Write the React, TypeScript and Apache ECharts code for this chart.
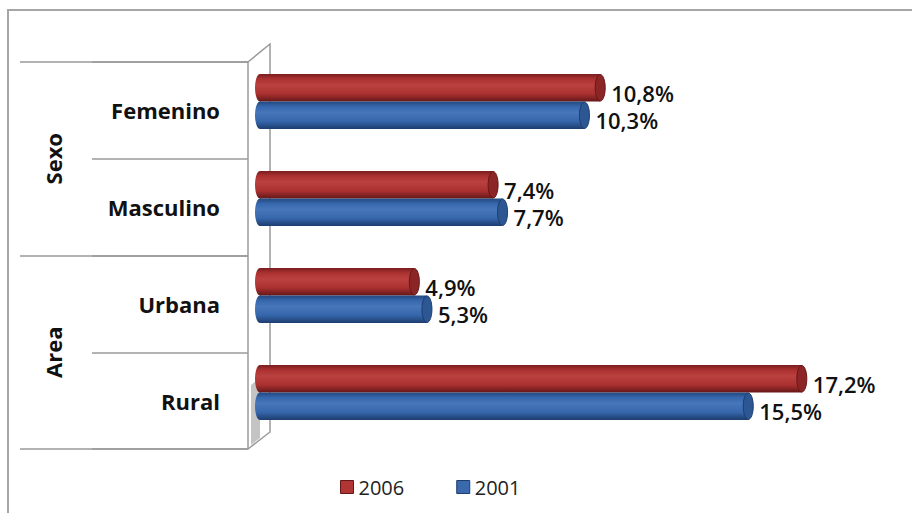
import React, { useEffect, useRef } from "react";
import * as echarts from "echarts";

const categories = ["Femenino", "Masculino", "Urbana", "Rural"];
const groups = ["Sexo", "Area"];
const seriesNames = ["2006", "2001"];
const values2006 = [10.8, 7.4, 4.9, 17.2];
const values2001 = [10.3, 7.7, 5.3, 15.5];

const FONT = "'Open Sans', 'DejaVu Sans', sans-serif";

const palettes = [
  { top: "#7a1d1d", mid: "#ab3131", light: "#bb4040", bottom: "#651717", cap: "#8c2626", solid: "#b03535" },
  { top: "#22487f", mid: "#3666ab", light: "#4776bb", bottom: "#1c3d6e", cap: "#2c5793", solid: "#3a69ae" },
];

function grad(p: any) {
  return new echarts.graphic.LinearGradient(0, 0, 0, 1, [
    { offset: 0, color: p.top },
    { offset: 0.18, color: p.mid },
    { offset: 0.4, color: p.light },
    { offset: 0.72, color: p.mid },
    { offset: 1, color: p.bottom },
  ]);
}

function makeRender(idx: number) {
  const p = palettes[idx];
  return (params: any, api: any) => {
    const v = api.value(0);
    const c = api.value(1);
    const start = api.coord([0, c]);
    const end = api.coord([v, c]);
    const h = 27.5;
    const yc = start[1] + (idx === 0 ? -h / 2 : h / 2);
    const rx = 5;
    const label = v.toFixed(1).replace(".", ",") + "%";
    return {
      type: "group",
      children: [
        {
          type: "ellipse",
          shape: { cx: start[0], cy: yc, rx: rx, ry: h / 2 },
          style: { fill: grad(p) },
        },
        {
          type: "rect",
          shape: { x: start[0], y: yc - h / 2, width: end[0] - start[0], height: h },
          style: { fill: grad(p) },
        },
        {
          type: "ellipse",
          shape: { cx: end[0], cy: yc, rx: rx, ry: h / 2 - 0.5 },
          style: { fill: p.cap, stroke: p.bottom, lineWidth: 1 },
        },
        {
          type: "text",
          style: {
            x: end[0] + rx + 6,
            y: yc + 5,
            text: label,
            fill: "#111",
            font: `600 22px ${FONT}`,
            textAlign: "left",
            textVerticalAlign: "middle",
          },
        },
      ],
    };
  };
}

export default function App() {
  const ref = useRef<HTMLDivElement>(null);
  useEffect(() => {
    if (!ref.current) return;
    const chart = echarts.init(ref.current, null, { renderer: "svg" });
    const lineColor = "#9a9a9a";
    chart.setOption({
      animation: false,
      backgroundColor: "#ffffff",
      legend: {
        data: seriesNames.map((n, i) => ({
          name: n,
          itemStyle: { color: palettes[i].solid, borderColor: palettes[i].bottom, borderWidth: 1 },
        })),
        icon: "rect",
        itemWidth: 13,
        itemHeight: 13,
        itemGap: 52,
        left: 340,
        top: 477,
        padding: 0,
        textStyle: { fontFamily: FONT, fontSize: 20, color: "#222" },
      },
      grid: [
        { left: 248, top: 62, width: 22, height: 387 },
        { left: 260, top: 53, right: 22, height: 388 },
      ],
      xAxis: [
        { type: "value", gridIndex: 0, show: false, min: 0, max: 1 },
        { type: "value", gridIndex: 1, show: false, min: 0, max: 20 },
      ],
      yAxis: [
        {
          type: "category",
          gridIndex: 0,
          data: categories,
          inverse: true,
          axisLine: { show: true, lineStyle: { color: lineColor, width: 1.5 } },
          axisTick: { show: true, length: 156, lineStyle: { color: lineColor, width: 1.5 } },
          axisLabel: {
            margin: 28,
            fontFamily: FONT,
            fontSize: 22,
            fontWeight: "bold",
            color: "#111",
          },
        },
        {
          type: "category",
          gridIndex: 0,
          data: groups,
          inverse: true,
          position: "left",
          axisLine: { show: false },
          axisTick: { show: true, length: 228, lineStyle: { color: lineColor, width: 1.5 } },
          axisLabel: {
            rotate: 90,
            margin: 184,
            fontFamily: FONT,
            fontSize: 22,
            fontWeight: "bold",
            color: "#111",
          },
        },
        {
          type: "category",
          gridIndex: 1,
          data: categories,
          inverse: true,
          show: false,
        },
      ],
      graphic: [
        {
          type: "rect",
          z: 0,
          shape: { x: 8, y: 10, width: 1000, height: 600 },
          style: { fill: "none", stroke: "#a6a6a6", lineWidth: 2 },
        },
        {
          type: "polygon",
          z: 0,
          shape: { points: [[251, 385], [260, 378], [260, 438], [251, 445]] },
          style: { fill: "#c4c4c4" },
        },
        {
          type: "polyline",
          z: 1,
          shape: { points: [[248, 62], [270, 44], [270, 432], [248, 449]] },
          style: { fill: "none", stroke: lineColor, lineWidth: 1.5 },
        },
      ],
      series: [
        {
          type: "custom",
          name: seriesNames[0],
          xAxisIndex: 1,
          yAxisIndex: 2,
          itemStyle: { color: palettes[0].solid },
          encode: { x: 0, y: 1 },
          data: values2006.map((v, i) => [v, i]),
          renderItem: makeRender(0),
        },
        {
          type: "custom",
          name: seriesNames[1],
          xAxisIndex: 1,
          yAxisIndex: 2,
          itemStyle: { color: palettes[1].solid },
          encode: { x: 0, y: 1 },
          data: values2001.map((v, i) => [v, i]),
          renderItem: makeRender(1),
        },
      ],
    });
    return () => chart.dispose();
  }, []);
  return (
    <div
      ref={ref}
      style={{ position: "fixed", left: 0, top: 0, width: 912, height: 513 }}
    />
  );
}
